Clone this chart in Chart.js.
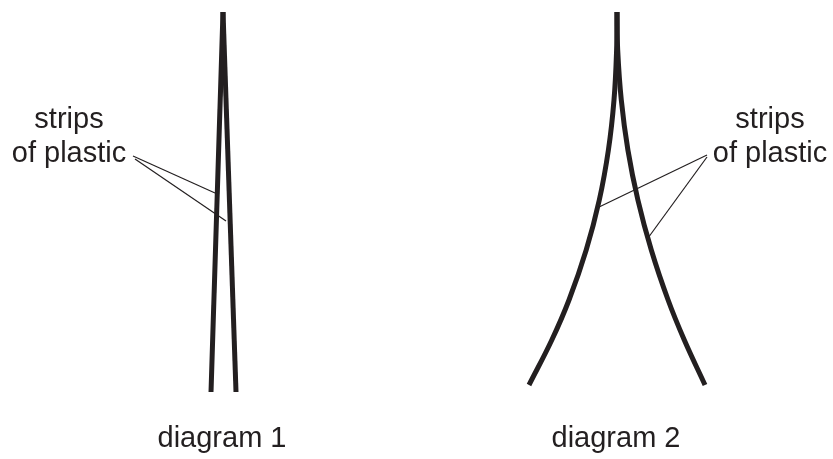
<!DOCTYPE html>
<html>
<head>
<meta charset="utf-8">
<script src="https://cdn.jsdelivr.net/npm/chart.js@4.4.1/dist/chart.umd.min.js"></script>
<style>
  html, body { margin: 0; padding: 0; background: #fff; }
  #wrap { width: 833px; height: 459px; }
</style>
</head>
<body>
<div id="wrap"><canvas id="diagrams" width="833" height="459"></canvas></div>
<script>
// strip shapes (x across, y down)
const strip1Left  = [{x: 223, y: 12}, {x: 211, y: 392}];
const strip1Right = [{x: 223, y: 12}, {x: 236, y: 392}];

const strip2Left  = [{x: 617, y: 12}, {x: 616.6, y: 50}, {x: 614, y: 100}, {x: 608.4, y: 150},
                     {x: 599.3, y: 200}, {x: 586.2, y: 250}, {x: 569, y: 300}, {x: 551.8, y: 340},
                     {x: 529, y: 385}];
const strip2Right = [{x: 617, y: 12}, {x: 617.7, y: 50}, {x: 621.3, y: 100}, {x: 627.9, y: 150},
                     {x: 637.9, y: 200}, {x: 651.3, y: 250}, {x: 668.1, y: 300}, {x: 684.3, y: 340},
                     {x: 705, y: 385}];

// leader lines from the labels to the strips
const pointer1a = [{x: 133, y: 156}, {x: 215, y: 193}];
const pointer1b = [{x: 135, y: 159}, {x: 226, y: 221}];
const pointer2a = [{x: 707, y: 155}, {x: 597, y: 208}];
const pointer2b = [{x: 707, y: 157}, {x: 648, y: 238}];

const labelLines = ['strips', 'of plastic'];
const captions = ['diagram 1', 'diagram 2'];

const ink = '#231f20';

function stripSet(pts, curved) {
    return {
        data: pts,
        showLine: true,
        borderColor: ink,
        borderWidth: 5,
        borderCapStyle: 'butt',
        pointRadius: 0,
        tension: curved ? 0.4 : 0
    };
}

function pointerSet(pts) {
    return {
        data: pts,
        showLine: true,
        borderColor: ink,
        borderWidth: 1.2,
        pointRadius: 0,
        tension: 0
    };
}

// text is placed in the same x/y space as the strips
const textPlugin = {
    id: 'diagramText',
    afterDatasetsDraw(chart) {
        const ctx = chart.ctx;
        const xs = chart.scales.x, ys = chart.scales.y;
        ctx.save();
        ctx.fillStyle = ink;
        ctx.font = '29px "Liberation Sans", Arial, sans-serif';
        ctx.textAlign = 'center';
        ctx.textBaseline = 'alphabetic';
        const labelSpots = [69, 770];
        labelSpots.forEach(cx => {
            ctx.fillText(labelLines[0], xs.getPixelForValue(cx), ys.getPixelForValue(128));
            ctx.fillText(labelLines[1], xs.getPixelForValue(cx), ys.getPixelForValue(162));
        });
        ctx.fillText(captions[0], xs.getPixelForValue(222), ys.getPixelForValue(447));
        ctx.fillText(captions[1], xs.getPixelForValue(616), ys.getPixelForValue(447));
        ctx.restore();
    }
};

const ctx = document.getElementById('diagrams').getContext('2d');
new Chart(ctx, {
    type: 'scatter',
    data: {
        datasets: [
            stripSet(strip1Left, false),
            stripSet(strip1Right, false),
            stripSet(strip2Left, true),
            stripSet(strip2Right, true),
            pointerSet(pointer1a),
            pointerSet(pointer1b),
            pointerSet(pointer2a),
            pointerSet(pointer2b)
        ]
    },
    options: {
        responsive: false,
        animation: false,
        layout: { padding: 0 },
        scales: {
            x: { type: 'linear', min: 0, max: 833, display: false },
            y: { type: 'linear', min: 0, max: 459, reverse: true, display: false }
        },
        plugins: {
            legend: { display: false },
            tooltip: { enabled: false }
        }
    },
    plugins: [textPlugin]
});
</script>
</body>
</html>
